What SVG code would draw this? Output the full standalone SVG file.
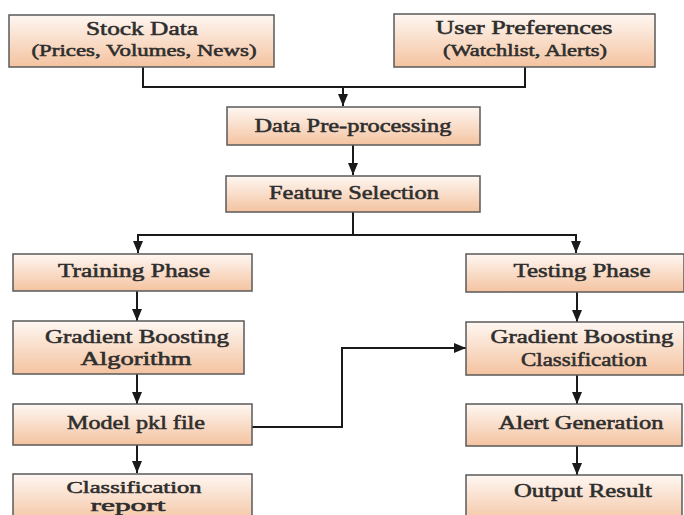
<svg xmlns="http://www.w3.org/2000/svg" width="684" height="515" viewBox="0 0 684 515">
<defs>
<linearGradient id="peach" x1="0" y1="0" x2="0" y2="1">
<stop offset="0" stop-color="#fef7f2"/>
<stop offset="1" stop-color="#f4c3a0"/>
</linearGradient>
<marker id="arr" markerUnits="userSpaceOnUse" markerWidth="12" markerHeight="10" viewBox="0 0 12 10" refX="12" refY="5" orient="auto">
<path d="M0 0 L12 5 L0 10 Z" fill="#1a1a1a"/>
</marker>
</defs>
<style>
.box{fill:url(#peach);stroke:#5a5a5a;stroke-width:1.5}
.t{font-family:"Liberation Serif","Times New Roman",serif;font-size:19px;fill:#2e2e2e;stroke:#2e2e2e;stroke-width:0.55}
.s{font-size:17px}
.c{fill:none;stroke:#1a1a1a;stroke-width:2}
</style>
<rect width="684" height="515" fill="#ffffff"/>
<g id="connectors">
<path class="c" d="M143 67 V87 H343"/>
<path class="c" d="M525 67 V87 H343"/>
<path class="c" d="M343 86 V106" marker-end="url(#arr)"/>
<path class="c" d="M353 145 V175" marker-end="url(#arr)"/>
<path class="c" d="M353 212 V235 M138 235 H576"/>
<path class="c" d="M138 234 V253" marker-end="url(#arr)"/>
<path class="c" d="M576 234 V253" marker-end="url(#arr)"/>
<path class="c" d="M137 291 V321" marker-end="url(#arr)"/>
<path class="c" d="M137 374 V404" marker-end="url(#arr)"/>
<path class="c" d="M137 445 V473" marker-end="url(#arr)"/>
<path class="c" d="M252 427 H342 V348 H466" marker-end="url(#arr)"/>
<path class="c" d="M577 292 V322" marker-end="url(#arr)"/>
<path class="c" d="M577 375 V404" marker-end="url(#arr)"/>
<path class="c" d="M577 446 V475" marker-end="url(#arr)"/>
</g>
<g id="stock-data">
<rect class="box" x="9" y="15" width="265" height="52"/>
<text class="t" x="142" y="35" text-anchor="middle" textLength="112" lengthAdjust="spacingAndGlyphs">Stock Data</text>
<text class="t s" x="144" y="56" text-anchor="middle" textLength="225" lengthAdjust="spacingAndGlyphs">(Prices, Volumes, News)</text>
</g>
<g id="user-preferences">
<rect class="box" x="394" y="14" width="261" height="53"/>
<text class="t" x="524" y="34" text-anchor="middle" textLength="177" lengthAdjust="spacingAndGlyphs">User Preferences</text>
<text class="t s" x="525" y="56" text-anchor="middle" textLength="164" lengthAdjust="spacingAndGlyphs">(Watchlist, Alerts)</text>
</g>
<g id="data-preprocessing">
<rect class="box" x="227" y="107" width="253" height="38"/>
<text class="t" x="353" y="132" text-anchor="middle" textLength="197" lengthAdjust="spacingAndGlyphs">Data Pre-processing</text>
</g>
<g id="feature-selection">
<rect class="box" x="226" y="176" width="254" height="36"/>
<text class="t" x="354" y="199" text-anchor="middle" textLength="170" lengthAdjust="spacingAndGlyphs">Feature Selection</text>
</g>
<g id="training-phase">
<rect class="box" x="13" y="254" width="239" height="37"/>
<text class="t" x="134" y="277" text-anchor="middle" textLength="152" lengthAdjust="spacingAndGlyphs">Training Phase</text>
</g>
<g id="testing-phase">
<rect class="box" x="466" y="254" width="218" height="38"/>
<text class="t" x="582" y="277" text-anchor="middle" textLength="137" lengthAdjust="spacingAndGlyphs">Testing Phase</text>
</g>
<g id="gb-algorithm">
<rect class="box" x="13" y="321" width="231" height="53"/>
<text class="t" x="137" y="343" text-anchor="middle" textLength="184" lengthAdjust="spacingAndGlyphs">Gradient Boosting</text>
<text class="t" x="136" y="365" text-anchor="middle" textLength="111" lengthAdjust="spacingAndGlyphs">Algorithm</text>
</g>
<g id="gb-classification">
<rect class="box" x="466" y="322" width="218" height="53"/>
<text class="t" x="582" y="343" text-anchor="middle" textLength="183" lengthAdjust="spacingAndGlyphs">Gradient Boosting</text>
<text class="t" x="584" y="366" text-anchor="middle" textLength="126" lengthAdjust="spacingAndGlyphs">Classification</text>
</g>
<g id="model-pkl">
<rect class="box" x="13" y="404" width="239" height="41"/>
<text class="t" x="136" y="429" text-anchor="middle" textLength="138" lengthAdjust="spacingAndGlyphs">Model pkl file</text>
</g>
<g id="alert-generation">
<rect class="box" x="466" y="404" width="216" height="42"/>
<text class="t" x="581" y="429" text-anchor="middle" textLength="165" lengthAdjust="spacingAndGlyphs">Alert Generation</text>
</g>
<g id="classification-report">
<rect class="box" x="13" y="474" width="239" height="50"/>
<text class="t s" x="134" y="493" text-anchor="middle" textLength="135" lengthAdjust="spacingAndGlyphs">Classification</text>
<text class="t s" x="128" y="511" text-anchor="middle" textLength="75" lengthAdjust="spacingAndGlyphs">report</text>
</g>
<g id="output-result">
<rect class="box" x="466" y="475" width="216" height="50"/>
<text class="t" x="583" y="497" text-anchor="middle" textLength="138" lengthAdjust="spacingAndGlyphs">Output Result</text>
</g>
</svg>
